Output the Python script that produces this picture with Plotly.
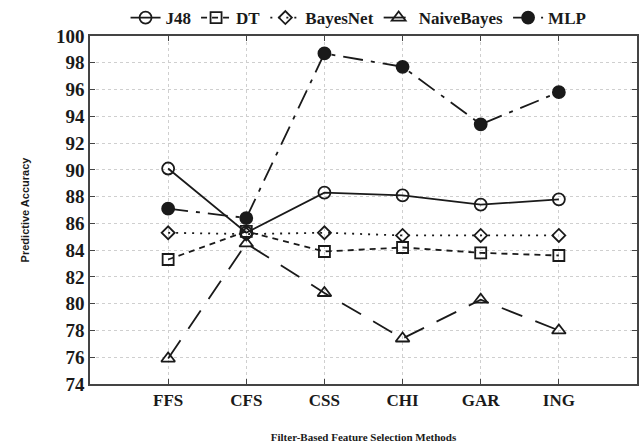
import plotly.graph_objects as go

methods = ["FFS", "CFS", "CSS", "CHI", "GAR", "ING"]
j48 = [90.1, 85.3, 88.3, 88.1, 87.4, 87.8]
dt = [83.3, 85.4, 83.9, 84.2, 83.8, 83.6]
bayesnet = [85.3, 85.2, 85.3, 85.1, 85.1, 85.1]
naivebayes = [75.9, 84.5, 80.8, 77.4, 80.3, 78.0]
mlp = [87.1, 86.4, 98.7, 97.7, 93.4, 95.8]
y_ticks = list(range(74, 101, 2))

series = [
    ("J48", j48, "solid", "circle-open", 12),
    ("DT", dt, "6px,5px", "square-open", 11),
    ("BayesNet", bayesnet, "2px,6px", "diamond-open", 10),
    ("NaiveBayes", naivebayes, "22px,14px", "triangle-up-open", 12),
    ("MLP", mlp, "20px,8px,4px,8px", "circle", 12),
]

xs = list(range(len(methods)))
fig = go.Figure()
for name, vals, dash, sym, size in series:
    fig.add_trace(go.Scatter(
        x=xs, y=vals, name="<b>%s</b>" % name, mode="lines+markers",
        line=dict(color="#1a1a1a", width=1.8, dash=dash),
        marker=dict(symbol=sym, size=size, color="#1a1a1a",
                    line=dict(color="#1a1a1a", width=1.8)),
    ))

fig.update_layout(
    width=643, height=444,
    margin=dict(l=90, r=6, t=36, b=60, autoexpand=False),
    paper_bgcolor="white", plot_bgcolor="white",
    showlegend=True,
    legend=dict(orientation="h", x=0.065, xanchor="left",
                y=1.0, yanchor="bottom",
                font=dict(family="Liberation Serif", size=17, color="#1a1a1a"),
                itemwidth=30, tracegroupgap=0, bgcolor="rgba(0,0,0,0)"),
    xaxis=dict(
        range=[-1, 6], tickvals=xs, ticktext=["<b>%s</b>" % m for m in methods],
        tickfont=dict(family="Liberation Serif", size=17, color="#1a1a1a"),
        showgrid=True, gridcolor="#cfcfcf", griddash="dot", gridwidth=1,
        showline=True, linecolor="#444", linewidth=1.5, mirror="ticks",
        ticks="inside", ticklen=5, tickcolor="#444", zeroline=False,
        title=dict(text="<b>Filter-Based Feature Selection Methods</b>",
                   font=dict(family="Liberation Serif", size=11, color="#1a1a1a"),
                   standoff=24),
    ),
    yaxis=dict(
        range=[74, 100], tickvals=y_ticks, ticktext=["<b>%d</b>" % v for v in y_ticks],
        tickfont=dict(family="Liberation Serif", size=19, color="#1a1a1a"),
        showgrid=True, gridcolor="#cfcfcf", griddash="dot", gridwidth=1,
        showline=True, linecolor="#444", linewidth=1.5, mirror="ticks",
        ticks="inside", ticklen=5, tickcolor="#444", zeroline=False,
        title=dict(text="<b>Predictive Accuracy</b>",
                   font=dict(family="Liberation Sans", size=11, color="#1a1a1a"),
                   standoff=24),
    ),
)

fig.write_html("out.html")
